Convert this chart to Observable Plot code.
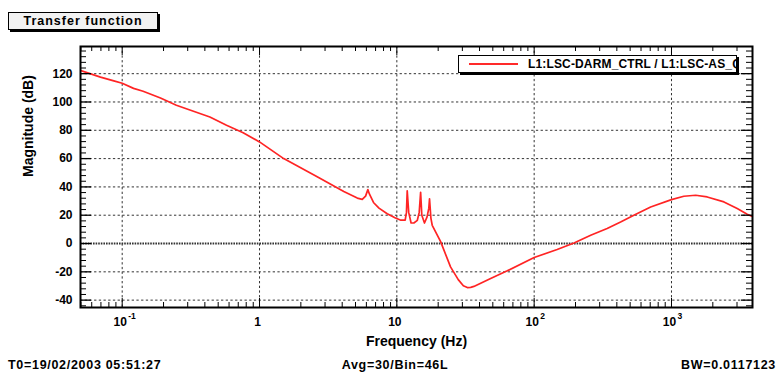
<!DOCTYPE html>
<html>
<head>
<meta charset="utf-8">
<script src="https://cdn.jsdelivr.net/npm/d3@7"></script>
<script src="https://cdn.jsdelivr.net/npm/@observablehq/plot@0.6"></script>
<style>
  body { margin: 0; background: #fff; }
  #wrap { position: relative; width: 780px; height: 378px; overflow: hidden;
          font-family: "Liberation Sans", Arial, sans-serif; font-weight: bold; color: #000; }
  #wrap svg { position: absolute; left: 0; top: 0; }
  .title { position: absolute; left: 8px; top: 12px; width: 150px; height: 18px; box-sizing: border-box;
           border: 1px solid #000; background: #f2f2f2; box-shadow: 2px 2px 0 #000;
           font-size: 12.5px; line-height: 16px; text-align: center; letter-spacing: 1px; }
  .legend { position: absolute; left: 458px; top: 55px; width: 279px; height: 18px; box-sizing: border-box;
            border: 1px solid #000; background: #fff; box-shadow: 2px 2px 0 #000; overflow: hidden; white-space: nowrap; }
  .legend .swatch { position: absolute; left: 10px; top: 7px; width: 49px; height: 0; border-top: 2px solid #ff2a2a; }
  .legend .label { position: absolute; left: 69px; top: 0; font-size: 12px; line-height: 16px; letter-spacing: 0.15px; }
  .foot { position: absolute; top: 358px; font-size: 12.5px; letter-spacing: 0.7px; white-space: nowrap; }
</style>
</head>
<body>
<div id="wrap">
  <div class="title">Transfer function</div>
</div>
<script>
// Measured transfer function magnitude
const freqHz = [0.0497, 0.052, 0.0695, 0.0869, 0.1, 0.121, 0.142, 0.19, 0.248, 0.435, 0.575, 0.76,
  1.0, 1.5, 2.63, 4.11, 5.15, 5.6, 5.92, 6.15, 6.31, 6.76, 7.41, 8.51, 9.77, 10.7, 11.5,
  11.75, 11.9, 12.2, 12.7, 13.3, 14.1, 14.55, 14.9, 15.2, 15.9, 16.6, 17.1, 17.3, 17.7, 18.1,
  20.8, 24.6, 28.0, 30.5, 32.6, 34.5, 36.4, 48.2, 63.7, 100, 147, 195, 258, 340, 426, 532, 705,
  1000, 1230, 1500, 1820, 2410, 3010, 3560, 3890];
const magDb = [122.2, 121.6, 117.6, 114.9, 113.2, 109.6, 107.6, 102.8, 97.7, 89.4, 83.5, 78.2,
  71.8, 60.0, 47.1, 36.8, 32.1, 31.2, 33.5, 38.1, 35.0, 29.0, 25.0, 21.0, 18.0, 16.5, 16.5,
  22.0, 37.3, 22.0, 14.5, 14.5, 16.4, 22.0, 36.2, 20.0, 14.5, 18.8, 25.0, 31.6, 18.0, 12.9,
  1.5, -16.5, -25.5, -29.8, -31.1, -31.0, -30.3, -24.7, -19.3, -9.9, -4.2, 0.4, 5.9, 10.6, 15.2, 20.0, 25.8,
  31.0, 33.4, 34.1, 32.9, 29.4, 24.7, 20.7, 19.0];

// Axis ticks and labels
const yMajor = [-40, -20, 0, 20, 40, 60, 80, 100, 120];
const xMajor = [0.1, 1, 10, 100, 1000];
const xTickBase = ["10", "1", "10", "10", "10"];
const xTickExp = ["-1", "", "", "2", "3"];

const seriesName = "L1:LSC-DARM_CTRL / L1:LSC-AS_Q";
const footLeft = "T0=19/02/2003 05:51:27";
const footMid = "Avg=30/Bin=46L";
const footRight = "BW=0.0117123";

const xDomain = [0.0497, 3890];
const yDomain = [-45.2, 139.2];

const points = freqHz.map((f, i) => ({f, db: magDb[i]}));

// Log minor ticks (2..9 per decade) and linear minor ticks every 4 dB
const xMinor = [];
for (let e = -2; e <= 3; e++) for (let k = 2; k <= 9; k++) {
  const v = k * Math.pow(10, e);
  if (v >= xDomain[0] && v <= xDomain[1]) xMinor.push(v);
}
const yMinor = d3.range(-44, 140, 4).filter(v => v % 20 !== 0);

const W = 780, H = 378, mL = 80, mR = 28, mT = 46, mB = 71;
const fw = W - mL - mR, fh = H - mT - mB;
const font = "'Liberation Sans', Arial, sans-serif";
const grid = {stroke: "#333", strokeWidth: 1, strokeDasharray: "2.3,2.4"};

const chart = Plot.plot({
  width: W, height: H,
  marginLeft: mL, marginRight: mR, marginTop: mT, marginBottom: mB,
  x: {type: "log", domain: xDomain, axis: null},
  y: {domain: yDomain, axis: null},
  style: {fontFamily: font, fontWeight: "bold", background: "transparent", overflow: "visible"},
  marks: [
    Plot.ruleX(xMajor, grid),
    Plot.ruleY(yMajor.filter(v => v !== 0), grid),
    Plot.ruleY([0], {stroke: "#333", strokeWidth: 2.2, strokeDasharray: "1.6,1"}),
    Plot.line(points, {x: "f", y: "db", stroke: "#ff2424", strokeWidth: 1.7, clip: true}),
    // inside ticks: bottom, top, left, right
    Plot.tickX(xMajor, {insetTop: fh - 9, stroke: "#000"}),
    Plot.tickX(xMinor, {insetTop: fh - 5, stroke: "#000"}),
    Plot.tickX(xMajor, {insetBottom: fh - 9, stroke: "#000"}),
    Plot.tickX(xMinor, {insetBottom: fh - 5, stroke: "#000"}),
    Plot.tickY(yMajor, {insetRight: fw - 11, stroke: "#000", strokeWidth: 1.3}),
    Plot.tickY(yMinor, {insetRight: fw - 6, stroke: "#000"}),
    Plot.tickY(yMajor, {insetLeft: fw - 11, stroke: "#000", strokeWidth: 1.3}),
    Plot.tickY(yMinor, {insetLeft: fw - 6, stroke: "#000"}),
    Plot.frame({stroke: "#000", strokeWidth: 2}),
    // tick labels
    Plot.text(yMajor, {y: d => d, text: d => String(d), frameAnchor: "left", textAnchor: "end",
      dx: -8, lineAnchor: "middle", fontSize: 12, fontWeight: "bold", fill: "#000"}),
    Plot.text(xMajor, {x: d => d, text: (d, i) => xTickBase[i], frameAnchor: "bottom",
      dy: 15, dx: -2, lineAnchor: "middle", fontSize: 12, fontWeight: "bold", fill: "#000"}),
    Plot.text(xMajor, {x: d => d, text: (d, i) => xTickExp[i], frameAnchor: "bottom",
      dy: 9, dx: 6, textAnchor: "start", lineAnchor: "middle", fontSize: 8.5, fontWeight: "bold", fill: "#000"}),
    // axis titles
    Plot.text(["Frequency (Hz)"], {frameAnchor: "bottom", dy: 34, lineAnchor: "middle",
      fontSize: 14, fontWeight: "bold", fill: "#000"}),
    Plot.text(["Magnitude (dB)"], {frameAnchor: "left", dx: -52, rotate: -90, lineAnchor: "middle",
      fontSize: 14, fontWeight: "bold", fill: "#000"})
  ]
});

const wrap = document.getElementById("wrap");
wrap.insertBefore(chart, wrap.firstChild);

// legend box inside the frame
const legend = document.createElement("div");
legend.className = "legend";
legend.innerHTML = `<div class="swatch"></div><div class="label"></div>`;
legend.querySelector(".label").textContent = seriesName;
wrap.appendChild(legend);

// footer annotations
function foot(text, css) {
  const d = document.createElement("div");
  d.className = "foot";
  d.textContent = text;
  Object.assign(d.style, css);
  wrap.appendChild(d);
  return d;
}
foot(footLeft, {left: "8px"});
foot(footMid, {left: "395px", transform: "translateX(-50%)"});
foot(footRight, {right: "4px"});
</script>
</body>
</html>
